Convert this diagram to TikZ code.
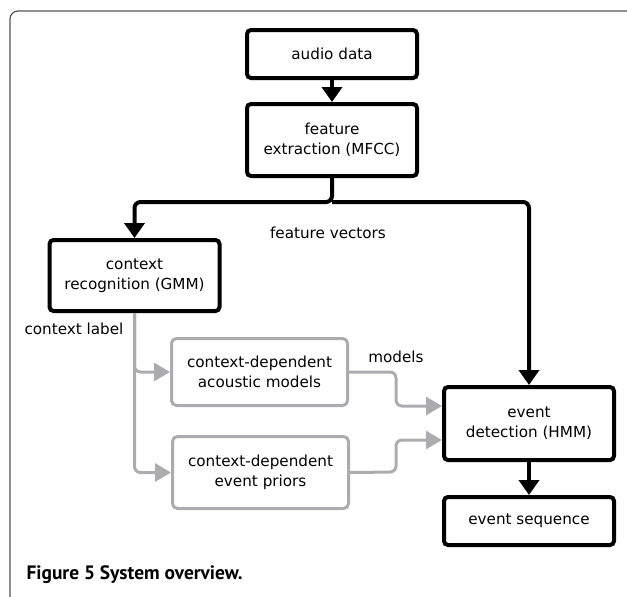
\documentclass[tikz,border=0pt]{standalone}
\usepackage{fontspec}
\setmainfont{DejaVu Sans}
\newfontfamily\capfont{PT Sans}
\usepackage{tikz}
\usetikzlibrary{calc, arrows.meta}
\definecolor{boxgray}{RGB}{172,172,176}
\definecolor{framegray}{RGB}{85,85,85}
\tikzstyle{block} = [rectangle, draw=black, line width=4pt, rounded corners=4pt,
align=center, minimum width=170pt, font=\fontsize{15.2pt}{20pt}\selectfont]
\tikzstyle{grayblock} = [block, draw=boxgray, line width=3pt, rounded corners=5pt, minimum width=176pt]
\tikzstyle{tag} = [font=\fontsize{15.2pt}{20pt}\selectfont]
\tikzstyle{line} = [draw, line width=4pt, rounded corners=6pt, -{Triangle[length=15pt,width=20pt]}]
\tikzstyle{grayline} = [draw=boxgray, line width=3pt, rounded corners=6pt, -{Triangle[length=16pt,width=18pt]}]
\begin{document}
\begin{tikzpicture}[x=1pt, y=-1pt]
	\useasboundingbox (0,0) rectangle (627,597);
	% frame
	\draw [framegray, line width=1.2pt, rounded corners=8pt] (10,597) -- (10,11) -- (627,11);
	% Place nodes
	\node [block, minimum height=48pt] (audio) at (332,54) {audio data};
	\node [block, minimum height=72pt] (feature) at (332,140) {feature\\extraction (MFCC)};
	\node [block, minimum height=71pt] (context) at (134.5,275.5) {context\\recognition (GMM)};
	\node [grayblock, minimum height=67pt] (acoustic) at (259.5,372) {context-dependent\\acoustic models};
	\node [grayblock, minimum height=72pt] (priors) at (260.5,472.5) {context-dependent\\event priors};
	\node [block, minimum height=73pt] (event) at (529,423.5) {event\\detection (HMM)};
	\node [block, minimum height=48pt] (sequence) at (529,521) {event sequence};
	%
	\node [tag] (vectors) at (328,233) {feature vectors};
	\node [tag] (label) at (74,329) {context label};
	\node [tag] (models) at (396,357) {models};
	%
	\coordinate (split) at (332,202);
	\path [line] (audio) -- (feature);
	\path [line] (feature.south) -- (split) -| (context.north);
	\path [line] (split) -| (event.north);
	\path [line] (event) -- (sequence);
	%
	\path [grayline] (context.south) |- (acoustic.west);
	\path [grayline] (context.south) |- (priors.west);
	\path [grayline] (acoustic.east) -- (396,372) |- ($(event.west)+(0,-17.5)$);
	\path [grayline] (priors.east) -- (396,472) |- ($(event.west)+(0,16.5)$);
	%
	\node [anchor=west, font=\capfont\bfseries\fontsize{19.4pt}{22pt}\selectfont] (caption) at (23,575) {Figure 5 System overview.};
\end{tikzpicture}
\end{document}
